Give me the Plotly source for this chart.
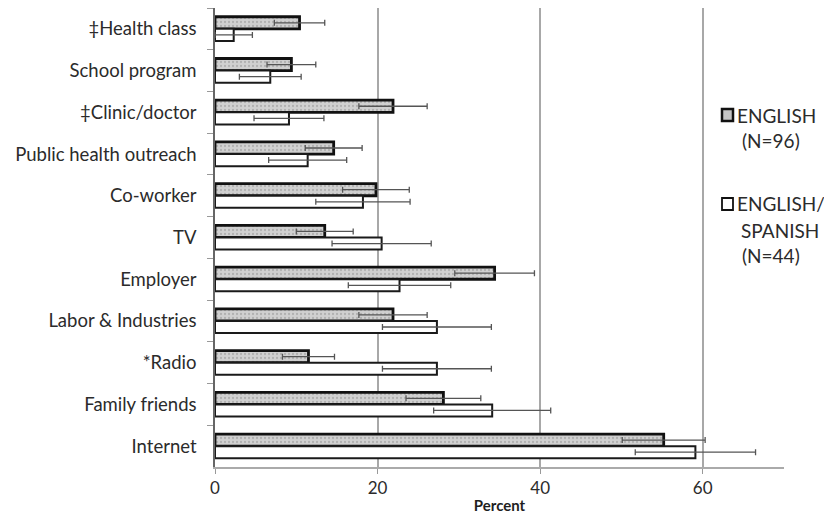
import plotly.graph_objects as go

# Information sources, listed top to bottom
sources = ["‡Health class", "School program", "‡Clinic/doctor", "Public health outreach",
           "Co-worker", "TV", "Employer", "Labor & Industries", "*Radio",
           "Family friends", "Internet"]

# Percent reporting each source, with standard error
english_pct = [10.4, 9.4, 21.9, 14.6, 19.8, 13.5, 34.4, 21.9, 11.5, 28.1, 55.2]
english_se = [3.1, 3.0, 4.2, 3.5, 4.1, 3.5, 4.9, 4.2, 3.2, 4.6, 5.1]
bilingual_pct = [2.3, 6.8, 9.1, 11.4, 18.2, 20.5, 22.7, 27.3, 27.3, 34.1, 59.1]
bilingual_se = [2.3, 3.8, 4.3, 4.8, 5.8, 6.1, 6.3, 6.7, 6.7, 7.2, 7.4]

x_ticks = [0, 20, 40, 60]

W, H = 824, 516
ML, MR, MT, MB = 215, 40, 8, 49
PW, PH = W - ML - MR, H - MT - MB

FONT = "Lato"
TXT = "#2b2b2b"


def px_x(p):
    return (p - ML) / PW


def px_y(p):
    return 1 - (p - MT) / PH


fig = go.Figure()

fig.add_trace(go.Bar(
    orientation="h", y=sources, x=english_pct, name="ENGLISH (N=96)",
    marker=dict(color="#cfcfcf", line=dict(color="#111111", width=2.8),
                pattern=dict(shape=".", fgcolor="#8f8f8f", bgcolor="#d0d0d0",
                             size=4, solidity=0.25)),
    error_x=dict(type="data", array=english_se, color="#555555", thickness=1.3, width=3),
    showlegend=False,
))
fig.add_trace(go.Bar(
    orientation="h", y=sources, x=bilingual_pct, name="ENGLISH/SPANISH (N=44)",
    marker=dict(color="white", line=dict(color="#1a1a1a", width=2)),
    error_x=dict(type="data", array=bilingual_se, color="#555555", thickness=1.3, width=3),
    showlegend=False,
))

# Legend drawn as swatches with wrapped labels
shapes = [
    dict(type="rect", xref="paper", yref="paper",
         x0=px_x(722), x1=px_x(733), y0=px_y(121), y1=px_y(109),
         fillcolor="#c4c4c4", line=dict(color="#111111", width=2.5)),
    dict(type="rect", xref="paper", yref="paper",
         x0=px_x(722), x1=px_x(733), y0=px_y(210), y1=px_y(198),
         fillcolor="white", line=dict(color="#111111", width=1.8)),
]
legend_lines = [
    ("ENGLISH", 735, 115), ("(N=96)", 740, 140),
    ("ENGLISH/", 735, 204), ("SPANISH", 739, 230), ("(N=44)", 740, 255),
]
annotations = [
    dict(text=t, xref="paper", yref="paper", x=px_x(xp), y=px_y(yp),
         xanchor="left", yanchor="middle", showarrow=False,
         font=dict(family=FONT, size=19, color=TXT))
    for t, xp, yp in legend_lines
]

fig.update_layout(
    width=W, height=H,
    margin=dict(l=ML, r=MR, t=MT, b=MB),
    paper_bgcolor="white", plot_bgcolor="white",
    barmode="group", bargap=0.42, bargroupgap=0,
    font=dict(family=FONT, size=18, color=TXT),
    shapes=shapes, annotations=annotations,
    xaxis=dict(range=[0, 70], tickvals=x_ticks, showgrid=True, gridcolor="#a8a8a8",
               gridwidth=1.5, zeroline=False, showline=True, linecolor="#aaaaaa",
               linewidth=1.5, ticks="outside", ticklen=5, tickcolor="#999999",
               tickfont=dict(size=17, color=TXT), automargin=False,
               title=dict(text="<b>Percent</b>", font=dict(size=15, color="#1e1e1e"),
                          standoff=3)),
    yaxis=dict(type="category", range=[10.5, -0.5], tickson="boundaries",
               ticks="outside", ticklen=6, tickcolor="#999999", showgrid=False,
               showline=True, linecolor="#666666", linewidth=1.5, automargin=False,
               ticklabelstandoff=13, tickfont=dict(size=18.5, color=TXT)),
)

fig.write_html("out.html")
